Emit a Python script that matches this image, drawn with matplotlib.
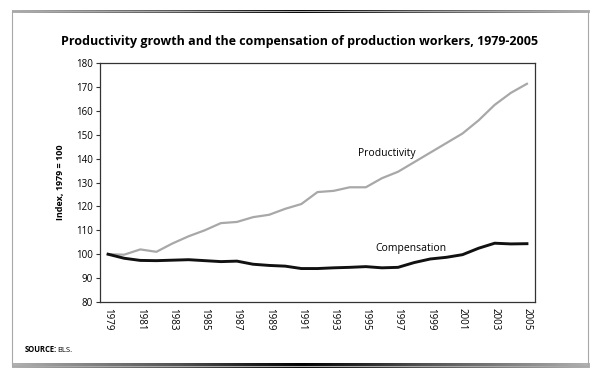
import matplotlib
matplotlib.use('Agg')
import matplotlib.pyplot as plt
from matplotlib.patches import Rectangle
import numpy as np

# Donnees (indice 1979 = 100)
years = list(range(1979, 2006))
productivity = [100, 99.8, 102, 101, 104.5, 107.5, 110, 113, 113.5, 115.5, 116.5,
                119, 121, 126, 126.5, 128, 128, 131.8, 134.5, 138.5, 142.5,
                146.5, 150.5, 156, 162.5, 167.5, 171.3]
compensation = [100, 98.3, 97.4, 97.3, 97.5, 97.7, 97.3, 96.9, 97.1, 95.8, 95.3,
                95.0, 94.0, 94.0, 94.3, 94.5, 94.8, 94.3, 94.5, 96.5, 98.0,
                98.7, 99.8, 102.5, 104.6, 104.3, 104.4]
tick_years = list(range(1979, 2006, 2))

plt.rcParams['font.family'] = ['Open Sans', 'DejaVu Sans']

fig = plt.figure(figsize=(6, 3.73), dpi=100)
W, H = 600, 373

# cadre exterieur
fig.patches.append(Rectangle((12 / W, 1 - 366 / H), 576 / W, 355 / H,
                             transform=fig.transFigure, fill=False,
                             edgecolor='#a8a8a8', linewidth=0.8))
# barres en degrade en haut et en bas
grad = np.abs(np.linspace(-1, 1, 256))[None, :]
ax_top = fig.add_axes([12 / W, 1 - 13 / H, 578 / W, 3 / H])
ax_top.imshow(grad, cmap='Greys_r', aspect='auto', vmin=0, vmax=1.7)
ax_top.axis('off')
ax_bot = fig.add_axes([12 / W, 1 - 368 / H, 578 / W, 5 / H])
ax_bot.imshow(grad, cmap='Greys_r', aspect='auto', vmin=0, vmax=1.7)
ax_bot.axis('off')

ax = fig.add_axes([100 / W, 1 - 302 / H, 435 / W, 239 / H])
ax.plot(years, productivity, color='#a8a8a8', linewidth=1.6)
ax.plot(years, compensation, color='#111111', linewidth=2.1)

ax.set_xlim(1978.5, 2005.5)
ax.set_ylim(80, 180)
ax.set_yticks(range(80, 181, 10))
ax.set_xticks(tick_years)
ax.set_xticklabels([str(y) for y in tick_years], rotation=270, fontsize=7)
ax.tick_params(axis='x', length=0, pad=4)
ax.tick_params(axis='y', length=3, labelsize=7, pad=2, color='#333333')
for s in ax.spines.values():
    s.set_color('#333333')
    s.set_linewidth(0.9)

ax.set_ylabel('Index, 1979 = 100', fontsize=6.5, fontweight='bold', labelpad=8)

ax.text(1996.3, 142, 'Productivity', fontsize=7.5, ha='center', va='center')
ax.text(1997.8, 102.5, 'Compensation', fontsize=7.5, ha='center', va='center')

fig.text(300 / W, 1 - 42 / H,
         'Productivity growth and the compensation of production workers, 1979-2005',
         ha='center', va='center', fontsize=9, fontweight='bold')

fig.text(25 / W, 1 - 350 / H, 'SOURCE:', fontsize=5.5, fontweight='bold',
         ha='left', va='center')
fig.text(57 / W, 1 - 350 / H, 'BLS.', fontsize=5.5, ha='left', va='center')

fig.savefig('out.png', dpi=100)
